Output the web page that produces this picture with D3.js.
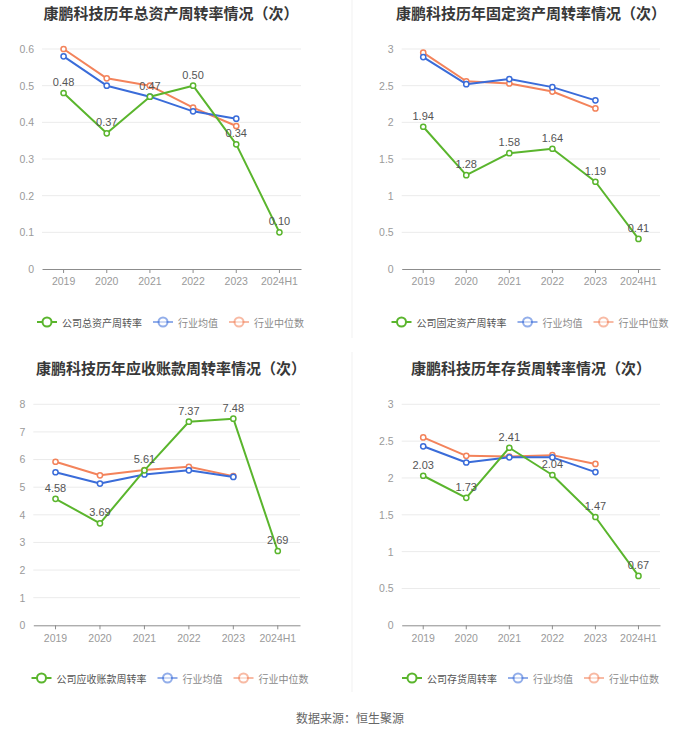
<!DOCTYPE html>
<html><head><meta charset="utf-8">
<script src="https://cdn.jsdelivr.net/npm/d3@7/dist/d3.min.js"></script>
<style>
html,body{margin:0;padding:0;background:#fff;}
svg{display:block;font-family:"Noto Sans CJK SC","Noto Sans",sans-serif;}
</style></head>
<body><svg id="c" width="700" height="734"></svg>
<script>
const categories = ["2019","2020","2021","2022","2023","2024H1"];
const industryCats = ["2019","2020","2021","2022","2023"];

// Chart 1: total asset turnover
const title1 = "康鹏科技历年总资产周转率情况（次）";
const legend1 = ["公司总资产周转率","行业均值","行业中位数"];
const company1 = [0.48,0.37,0.47,0.50,0.34,0.10];
const avg1 = [0.58,0.50,0.47,0.43,0.41];
const median1 = [0.60,0.52,0.50,0.44,0.39];
const ticks1 = [0,0.1,0.2,0.3,0.4,0.5,0.6];

// Chart 2: fixed asset turnover
const title2 = "康鹏科技历年固定资产周转率情况（次）";
const legend2 = ["公司固定资产周转率","行业均值","行业中位数"];
const company2 = [1.94,1.28,1.58,1.64,1.19,0.41];
const avg2 = [2.89,2.52,2.59,2.48,2.30];
const median2 = [2.95,2.56,2.53,2.42,2.19];
const ticks2 = [0,0.5,1,1.5,2,2.5,3];

// Chart 3: receivables turnover
const title3 = "康鹏科技历年应收账款周转率情况（次）";
const legend3 = ["公司应收账款周转率","行业均值","行业中位数"];
const company3 = [4.58,3.69,5.61,7.37,7.48,2.69];
const avg3 = [5.54,5.13,5.46,5.61,5.37];
const median3 = [5.92,5.43,5.62,5.74,5.40];
const ticks3 = [0,1,2,3,4,5,6,7,8];

// Chart 4: inventory turnover
const title4 = "康鹏科技历年存货周转率情况（次）";
const legend4 = ["公司存货周转率","行业均值","行业中位数"];
const company4 = [2.03,1.73,2.41,2.04,1.47,0.67];
const avg4 = [2.43,2.21,2.28,2.28,2.08];
const median4 = [2.55,2.30,2.29,2.31,2.19];
const ticks4 = [0,0.5,1,1.5,2,2.5,3];

const source = "数据来源：恒生聚源";

const GREEN = "#5ab52d", BLUE = "#3a6cd9", ORANGE = "#f3835b";

const svg = d3.select("#c");

// faint dividers
svg.append("line").attr("x1",352).attr("x2",352).attr("y1",0).attr("y2",338).attr("stroke","#f1f1f1");
svg.append("line").attr("x1",352).attr("x2",352).attr("y1",352).attr("y2",692).attr("stroke","#f1f1f1");

function panel(o){
  const g = svg.append("g");
  const x = d3.scaleBand().domain(categories).range([o.x0,o.x1]).padding(0);
  const y = d3.scaleLinear().domain([0,o.ticks[o.ticks.length-1]]).range([o.y0,o.yTop]);
  const cx = d => x(d) + x.bandwidth()/2;

  // title
  g.append("text").attr("x",o.tx).attr("y",o.ty).attr("text-anchor","middle")
    .attr("dominant-baseline","central").attr("font-size",15).attr("font-weight","bold")
    .attr("fill","#383838").text(o.title);

  // grid
  g.selectAll(".grid").data(o.ticks.filter(t=>t>0)).enter().append("line")
    .attr("x1",o.x0).attr("x2",o.x1).attr("y1",d=>y(d)).attr("y2",d=>y(d))
    .attr("stroke","#ebebeb").attr("stroke-width",1);

  // y labels
  const yAxis = d3.axisLeft(y).tickValues(o.ticks).tickSize(0).tickPadding(8).tickFormat(d3.format("~g"));
  const ya = g.append("g").attr("transform",`translate(${o.x0},0)`).call(yAxis);
  ya.select(".domain").remove();
  ya.selectAll("text").attr("fill","#9a9a9a").attr("font-size",10.5).attr("font-family","'Liberation Sans',Arial,sans-serif");

  // x axis
  const xAxis = d3.axisBottom(x).tickSizeInner(4).tickSizeOuter(0).tickPadding(5);
  const xa = g.append("g").attr("transform",`translate(0,${o.y0})`).call(xAxis);
  xa.select(".domain").attr("stroke","#8c8c8c");
  xa.selectAll(".tick line").attr("stroke","#8c8c8c");
  xa.selectAll("text").attr("fill","#9a9a9a").attr("font-size",10.5).attr("font-family","'Liberation Sans',Arial,sans-serif");

  const line = d3.line().x(d=>cx(d.c)).y(d=>y(d.v));
  const series = [
    {vals:o.median, cats:industryCats, color:ORANGE},
    {vals:o.avg, cats:industryCats, color:BLUE},
    {vals:o.company, cats:categories, color:GREEN, labels:true}
  ];
  series.forEach(s=>{
    const pts = s.vals.map((v,i)=>({c:s.cats[i],v}));
    g.append("path").datum(pts).attr("d",line).attr("fill","none")
      .attr("stroke",s.color).attr("stroke-width",2).attr("stroke-linejoin","round");
    g.selectAll(null).data(pts).enter().append("circle")
      .attr("cx",d=>cx(d.c)).attr("cy",d=>y(d.v)).attr("r",2.6)
      .attr("fill","#fff").attr("stroke",s.color).attr("stroke-width",1.5);
    if(s.labels){
      g.selectAll(null).data(pts).enter().append("text")
        .attr("x",d=>cx(d.c)).attr("y",d=>y(d.v)-11).attr("text-anchor","middle")
        .attr("dominant-baseline","central").attr("font-size",11)
        .attr("font-family","'Liberation Sans',Arial,sans-serif")
        .attr("fill","#555").text(d=>d3.format(".2f")(d.v));
    }
  });

  // legend
  const items = [
    {t:o.legend[0], c:GREEN, tc:"#555", op:1},
    {t:o.legend[1], c:BLUE, tc:"#8a8a8a", op:0.55},
    {t:o.legend[2], c:ORANGE, tc:"#8a8a8a", op:0.55}
  ];
  const fs = 10, iconW = 20, gapIT = 5, gapItems = 11;
  const widths = items.map(it => iconW + gapIT + it.t.length*fs);
  const total = d3.sum(widths) + gapItems*(items.length-1);
  let lx = o.lx - total/2;
  const lg = g.append("g");
  items.forEach((it,i)=>{
    const ig = lg.append("g").attr("transform",`translate(${lx},${o.ly})`);
    ig.append("line").attr("x1",0).attr("x2",iconW).attr("y1",0).attr("y2",0)
      .attr("stroke",it.c).attr("stroke-width",2).attr("opacity",it.op);
    ig.append("circle").attr("cx",iconW/2).attr("cy",0).attr("r",4.5)
      .attr("fill","#fff").attr("stroke",it.c).attr("stroke-width",2).attr("opacity",it.op);
    ig.append("text").attr("x",iconW+gapIT).attr("y",0).attr("dominant-baseline","central")
      .attr("font-size",fs).attr("fill",it.tc).text(it.t);
    lx += widths[i] + gapItems;
  });
}

panel({title:title1, legend:legend1, company:company1, avg:avg1, median:median1, ticks:ticks1,
  x0:42, x1:301, yTop:49, y0:269, tx:171, ty:12, lx:170.5, ly:322});
panel({title:title2, legend:legend2, company:company2, avg:avg2, median:median2, ticks:ticks2,
  x0:401.7, x1:660, yTop:49, y0:269, tx:531, ty:12, lx:530, ly:322});
panel({title:title3, legend:legend3, company:company3, avg:avg3, median:median3, ticks:ticks3,
  x0:33.3, x1:300, yTop:404.3, y0:625.3, tx:171, ty:367, lx:170, ly:678});
panel({title:title4, legend:legend4, company:company4, avg:avg4, median:median4, ticks:ticks4,
  x0:401.7, x1:660, yTop:404.3, y0:625.3, tx:531, ty:367, lx:530.5, ly:678});

svg.append("text").attr("x",350).attr("y",717).attr("text-anchor","middle")
  .attr("dominant-baseline","central").attr("font-size",12).attr("fill","#666").text(source);
</script>
</body></html>
